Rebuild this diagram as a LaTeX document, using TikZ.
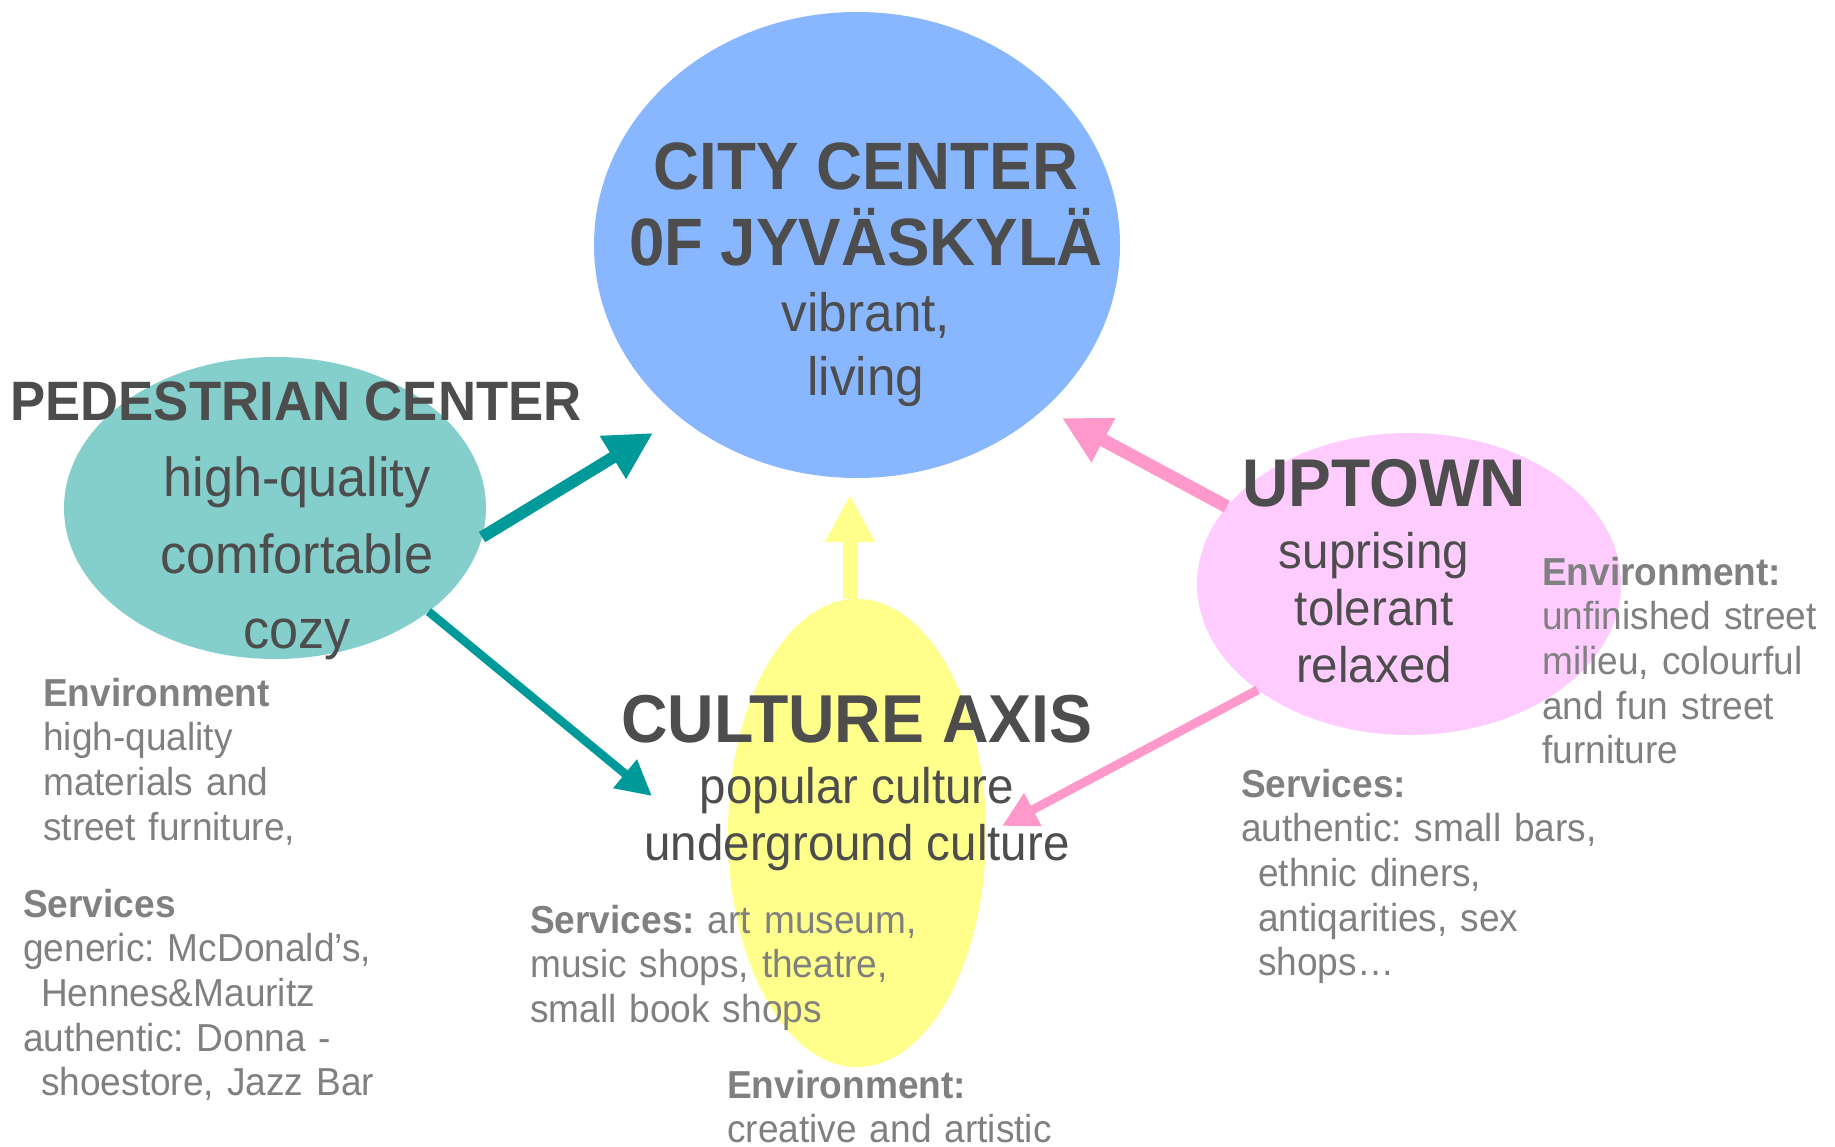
\documentclass[tikz,border=0pt]{standalone}
\usepackage{fontspec}
\setmainfont[FakeStretch=0.95]{Liberation Sans}
\usetikzlibrary{arrows.meta,shapes.geometric}
\definecolor{cityblue}{RGB}{136,183,255}
\definecolor{pedteal}{RGB}{132,206,204}
\definecolor{arrteal}{RGB}{0,153,153}
\definecolor{cultyellow}{RGB}{255,255,140}
\definecolor{upink}{RGB}{255,204,255}
\definecolor{arrpink}{RGB}{255,153,204}
\definecolor{darktext}{RGB}{77,77,77}
\definecolor{graytext}{RGB}{128,128,128}
\newcommand{\fsz}[2]{\fontsize{#1}{#2}\selectfont}
\frenchspacing

\begin{document}
\begin{tikzpicture}[x=1pt,y=-1pt,
  blob/.style={ellipse,draw=none,inner sep=0pt,outer sep=0pt},
  headline/.style={anchor=base,inner sep=0pt,text=darktext,font=\bfseries\fsz{#1}{#1}},
  word/.style={anchor=base,inner sep=0pt,text=darktext,font=\fsz{#1}{#1}},
  note/.style={anchor=base west,inner sep=0pt,text=graytext,align=left,
    text width=420pt,font=\fsz{39}{44.7}},
  flow/.style={line width=#1},
  bighead/.style={-{Triangle[length=47pt,width=47pt]}},
  smallhead/.style={-{Triangle[length=35pt,width=35pt]}}]

\useasboundingbox (0,0) rectangle (1835,1146);

% district ellipses
\node[blob,fill=cityblue,minimum width=526pt,minimum height=466pt] (city) at (857,245) {};
\node[blob,fill=pedteal,minimum width=422pt,minimum height=302pt] (ped) at (275,508) {};
\node[blob,fill=cultyellow,minimum width=258pt,minimum height=468pt] (cult) at (857,833) {};
\node[blob,fill=upink,minimum width=424pt,minimum height=302pt] (up) at (1409,584) {};

% arrow tips
\coordinate (tipA) at (653,433);
\coordinate (tipB) at (652,796);
\coordinate (tipC) at (850,495);
\coordinate (tipD) at (1062,418);
\coordinate (tipE) at (1002,826);

% connections
\draw[draw=arrteal,flow=12pt,bighead] (ped.-8.7) -- (tipA);
\draw[draw=arrteal,flow=8.5pt,smallhead] (ped.-34.6) -- (tipB);
\draw[draw=cultyellow,flow=15pt,bighead] ([xshift=-7pt]cult.north) -- (tipC);
\draw[draw=arrpink,flow=13pt,bighead] (up.157.6) -- (tipD);
\draw[draw=arrpink,flow=9pt,smallhead] (up.215.2) -- (tipE);

% city center
\node[headline=67] (cityA) at (866,189) {CITY CENTER};
\node[headline=67] (cityB) at (866,265) {0F JYVÄSKYLÄ};
\node[word=54] (cityC) at (866,331) {vibrant,};
\node[word=54] (cityD) at (866,395) {living};

% pedestrian center
\node[headline=55.5] (pedA) at (296,420) {PEDESTRIAN CENTER};
\node[word=55] (pedB) at (297,496) {high-quality};
\node[word=55] (pedC) at (297,573) {comfortable};
\node[word=55] (pedD) at (297,648) {cozy};
\node[note] (pedEnv) at (43,706) {\textbf{Environment}\\high-quality\\materials and\\street furniture,};
\node[note] (pedSrv) at (23,917) {\textbf{Services}\\generic: McDonald’s,\\\hspace*{18pt}Hennes\&Mauritz\\authentic: Donna -\\\hspace*{18pt}shoestore, Jazz Bar};

% culture axis
\node[headline=67.8] (cultA) at (857,742) {CULTURE AXIS};
\node[word=50] (cultB) at (857,803) {popular culture};
\node[word=50] (cultC) at (857,860) {underground culture};
\node[note] (cultSrv) at (530,933) {\textbf{Services:} art museum,\\music shops, theatre,\\small book shops};
\node[note] (cultEnv) at (727,1098) {\textbf{Environment:}\\creative and artistic};

% uptown
\node[headline=67.5] (upA) at (1384,506) {UPTOWN};
\node[word=50] (upB) at (1374,568) {suprising};
\node[word=50] (upC) at (1374,625) {tolerant};
\node[word=50] (upD) at (1374,682) {relaxed};
\node[note] (upEnv) at (1542,585) {\textbf{Environment:}\\unfinished street\\milieu, colourful\\and fun street\\furniture};
\node[note] (upSrv) at (1241,797) {\textbf{Services:}\\authentic: small bars,\\\hspace*{17pt}ethnic diners,\\\hspace*{17pt}antiqarities, sex\\\hspace*{17pt}shops…};

\end{tikzpicture}
\end{document}
